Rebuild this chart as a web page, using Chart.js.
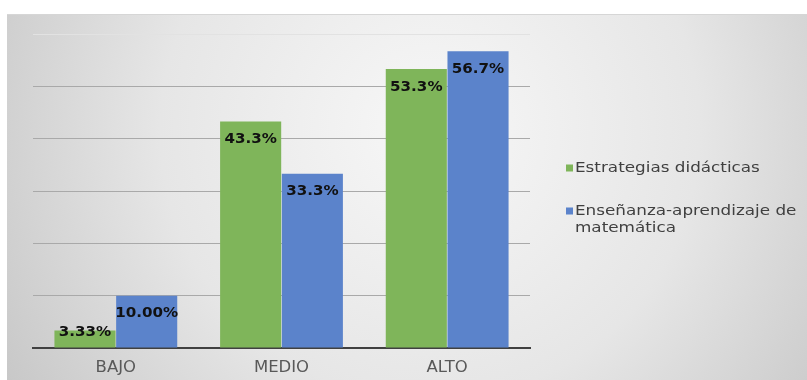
<!DOCTYPE html>
<html>
<head>
<meta charset="utf-8">
<script src="https://cdn.jsdelivr.net/npm/chart.js@4.4.0/dist/chart.umd.min.js"></script>
<style>
  html, body { margin: 0; padding: 0; background: #ffffff; overflow: hidden; }
  #wrap { position: absolute; left: 0; top: 0; width: 807px; height: 380px; }
</style>
</head>
<body>
<div id="wrap"><canvas id="c" width="807" height="380"></canvas></div>
<script>
const categories = ['BAJO', 'MEDIO', 'ALTO'];
const estrategias = [3.33, 43.3, 53.3];
const ensenanza = [10.00, 33.3, 56.7];
const estrategiasLabels = ['3.33%', '43.3%', '53.3%'];
const ensenanzaLabels = ['10.00%', '33.3%', '56.7%'];
const seriesNames = ['Estrategias didácticas', ['Enseñanza-aprendizaje de', 'matemática']];

const bgPlugin = {
  id: 'bg',
  beforeDraw(chart) {
    const ctx = chart.ctx;
    ctx.save();
    ctx.fillStyle = '#ffffff';
    ctx.fillRect(0, 0, chart.width, chart.height);
    const g = ctx.createRadialGradient(430, 130, 20, 430, 130, 520);
    g.addColorStop(0, '#f6f6f6');
    g.addColorStop(0.5, '#e6e6e6');
    g.addColorStop(1, '#c4c4c4');
    ctx.fillStyle = g;
    ctx.fillRect(7, 14, chart.width - 7, chart.height - 14);
    ctx.fillStyle = '#d6d6d6';
    ctx.fillRect(7, 14, chart.width - 7, 1);
    ctx.restore();
  }
};

function stretchedText(ctx, text, x, y, sx, align) {
  ctx.save();
  ctx.translate(x, y);
  ctx.scale(sx, 1);
  ctx.textAlign = align;
  ctx.fillText(text, 0, 0);
  ctx.restore();
}

const labelPlugin = {
  id: 'vals',
  afterDatasetsDraw(chart) {
    const ctx = chart.ctx;
    const base = chart.scales.y.getPixelForValue(0);
    ctx.save();
    ctx.font = 'bold 14px "DejaVu Sans"';
    ctx.fillStyle = '#111111';
    ctx.textBaseline = 'middle';
    const allLabels = [estrategiasLabels, ensenanzaLabels];
    chart.data.datasets.forEach((ds, di) => {
      const meta = chart.getDatasetMeta(di);
      meta.data.forEach((bar, i) => {
        const y = Math.min(bar.y + 18, base - 16);
        stretchedText(ctx, allLabels[di][i], bar.x, y, 1.08, 'center');
      });
    });
    // category labels below the axis
    ctx.font = '15px "DejaVu Sans"';
    ctx.fillStyle = '#595959';
    chart.data.labels.forEach((lab, i) => {
      const x = chart.scales.x.getPixelForValue(i);
      stretchedText(ctx, lab, x, base + 20, 1.1, 'center');
    });
    ctx.restore();
  }
};

const legendPlugin = {
  id: 'customLegend',
  afterDraw(chart) {
    const ctx = chart.ctx;
    ctx.save();
    ctx.font = '14px "DejaVu Sans"';
    ctx.textBaseline = 'middle';
    const x0 = 566;
    const ys = [168, 211];
    chart.data.datasets.forEach((ds, di) => {
      ctx.fillStyle = ds.backgroundColor;
      ctx.fillRect(x0, ys[di] - 3.5, 7, 7);
      ctx.fillStyle = '#404040';
      const lines = Array.isArray(seriesNames[di]) ? seriesNames[di] : [seriesNames[di]];
      lines.forEach((t, li) => stretchedText(ctx, t, x0 + 9, ys[di] + li * 17, 1.2, 'left'));
    });
    ctx.restore();
  }
};

new Chart(document.getElementById('c'), {
  type: 'bar',
  data: {
    labels: categories,
    datasets: [
      { label: 'Estrategias didácticas', data: estrategias, backgroundColor: '#7fb55a', borderWidth: 0 },
      { label: 'Enseñanza-aprendizaje de matemática', data: ensenanza, backgroundColor: '#5b83cb', borderWidth: 0 }
    ]
  },
  options: {
    responsive: false,
    animation: false,
    devicePixelRatio: 1,
    layout: { padding: { left: 33, right: 277, top: 34, bottom: 32 } },
    datasets: { bar: { categoryPercentage: 0.745, barPercentage: 0.99 } },
    plugins: { legend: { display: false }, tooltip: { enabled: false } },
    scales: {
      x: {
        grid: { display: false, drawTicks: false },
        border: { display: true, color: '#404040', width: 2 },
        ticks: { display: false }
      },
      y: {
        min: 0, max: 60,
        ticks: { display: false, stepSize: 10 },
        grid: {
          drawTicks: false,
          color: (c) => c.tick && c.tick.value === 60 ? '#e2e2e2' : '#a9a9a9',
          lineWidth: 1
        },
        border: { display: false }
      }
    }
  },
  plugins: [bgPlugin, labelPlugin, legendPlugin]
});
</script>
</body>
</html>
